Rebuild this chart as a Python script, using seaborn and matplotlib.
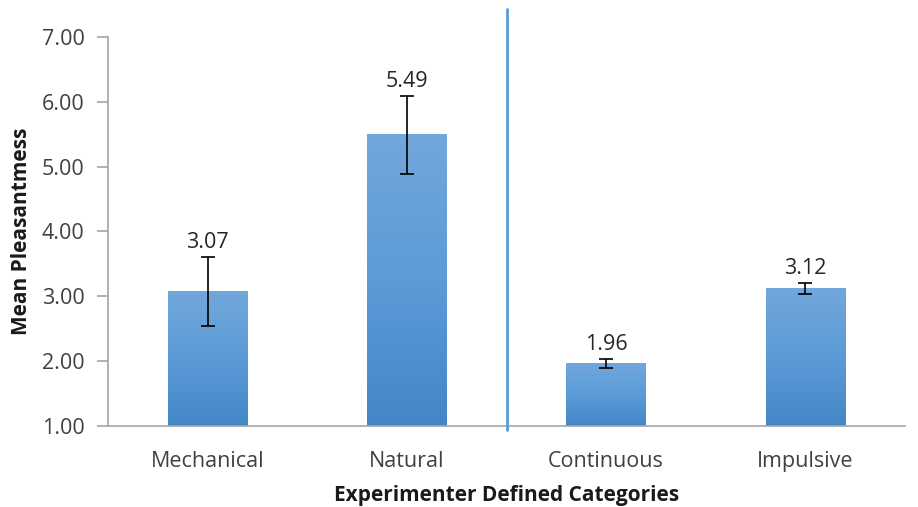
import numpy as np
import pandas as pd
import matplotlib
matplotlib.use("Agg")
import matplotlib.pyplot as plt
import seaborn as sns
from matplotlib.colors import LinearSegmentedColormap

categories = ["Mechanical", "Natural", "Continuous", "Impulsive"]
means = [3.07, 5.49, 1.96, 3.12]
errors = [0.53, 0.60, 0.07, 0.09]
yticks = [1.0, 2.0, 3.0, 4.0, 5.0, 6.0, 7.0]

sns.set_theme(style="white")
plt.rcParams['font.family'] = ['Open Sans', 'DejaVu Sans']

df = pd.DataFrame({"cat": categories, "mean": means})

fig = plt.figure(figsize=(9.18, 5.07), dpi=100)
ax = fig.add_axes([108/918, 1-426/507, (905-108)/918, (426-37)/507])

sns.barplot(data=df, x="cat", y="mean", ax=ax, width=0.4, color="#5B9BD5",
            errorbar=None, linewidth=0)

ax.set_ylim(1, 7)
ax.set_xlim(-0.5, 3.5)

# gradient fill on bars (dark at bottom, light at top)
grad = np.linspace(0, 1, 256).reshape(-1, 1)
cmap = LinearSegmentedColormap.from_list("g", ["#4586C6", "#5B9BD8", "#72A7DB"])
for p in list(ax.patches):
    x0, w = p.get_x(), p.get_width()
    top = p.get_y() + p.get_height()
    ax.imshow(grad, cmap=cmap, aspect="auto", extent=(x0, x0 + w, 1, top),
              zorder=2, origin="lower", interpolation="bilinear")
    p.set_visible(False)

ax.set_ylim(1, 7)
ax.set_xlim(-0.5, 3.5)

xs = np.arange(len(categories))
ax.errorbar(xs, means, yerr=errors, fmt="none", ecolor="black", elinewidth=1.2,
            capsize=5, capthick=1.2, zorder=3)

for x, m, e in zip(xs, means, errors):
    ax.annotate(f"{m:.2f}", (x, m + e), xytext=(0, 3), textcoords="offset points",
                ha="center", va="bottom", fontsize=15.5, color="#262626")

ax.set_yticks(yticks)
ax.set_yticklabels([f"{v:.2f}" for v in yticks])

# vertical divider
ax.plot([1.5, 1.5], [0.94, 7.43], color="#5B9BD5", lw=2, clip_on=False, zorder=4)

for s in ["top", "right"]:
    ax.spines[s].set_visible(False)
for s in ["left", "bottom"]:
    ax.spines[s].set_color("#A6A6A6")
    ax.spines[s].set_linewidth(1.2)

ax.set_xticks(xs)
ax.set_xticklabels(categories)
ax.tick_params(axis="x", length=0, labelsize=15.5, labelcolor="#404040", pad=18)
ax.set_xticks([-0.5, 0.5, 1.5, 2.5, 3.5], minor=True)
ax.tick_params(axis="x", which="minor", length=6, color="#A6A6A6", width=1.2, direction="out")
ax.tick_params(axis="y", length=8, color="#A6A6A6", width=1.2, labelsize=15.5,
               labelcolor="#404040", direction="out", left=True, pad=9)

ax.set_xlabel("Experimenter Defined Categories", fontsize=15, fontweight="bold",
              color="#1a1a1a", labelpad=9)
ax.set_ylabel("Mean Pleasantmess", fontsize=15, fontweight="bold", color="#1a1a1a",
              labelpad=7)

fig.savefig("out.png", dpi=100)
